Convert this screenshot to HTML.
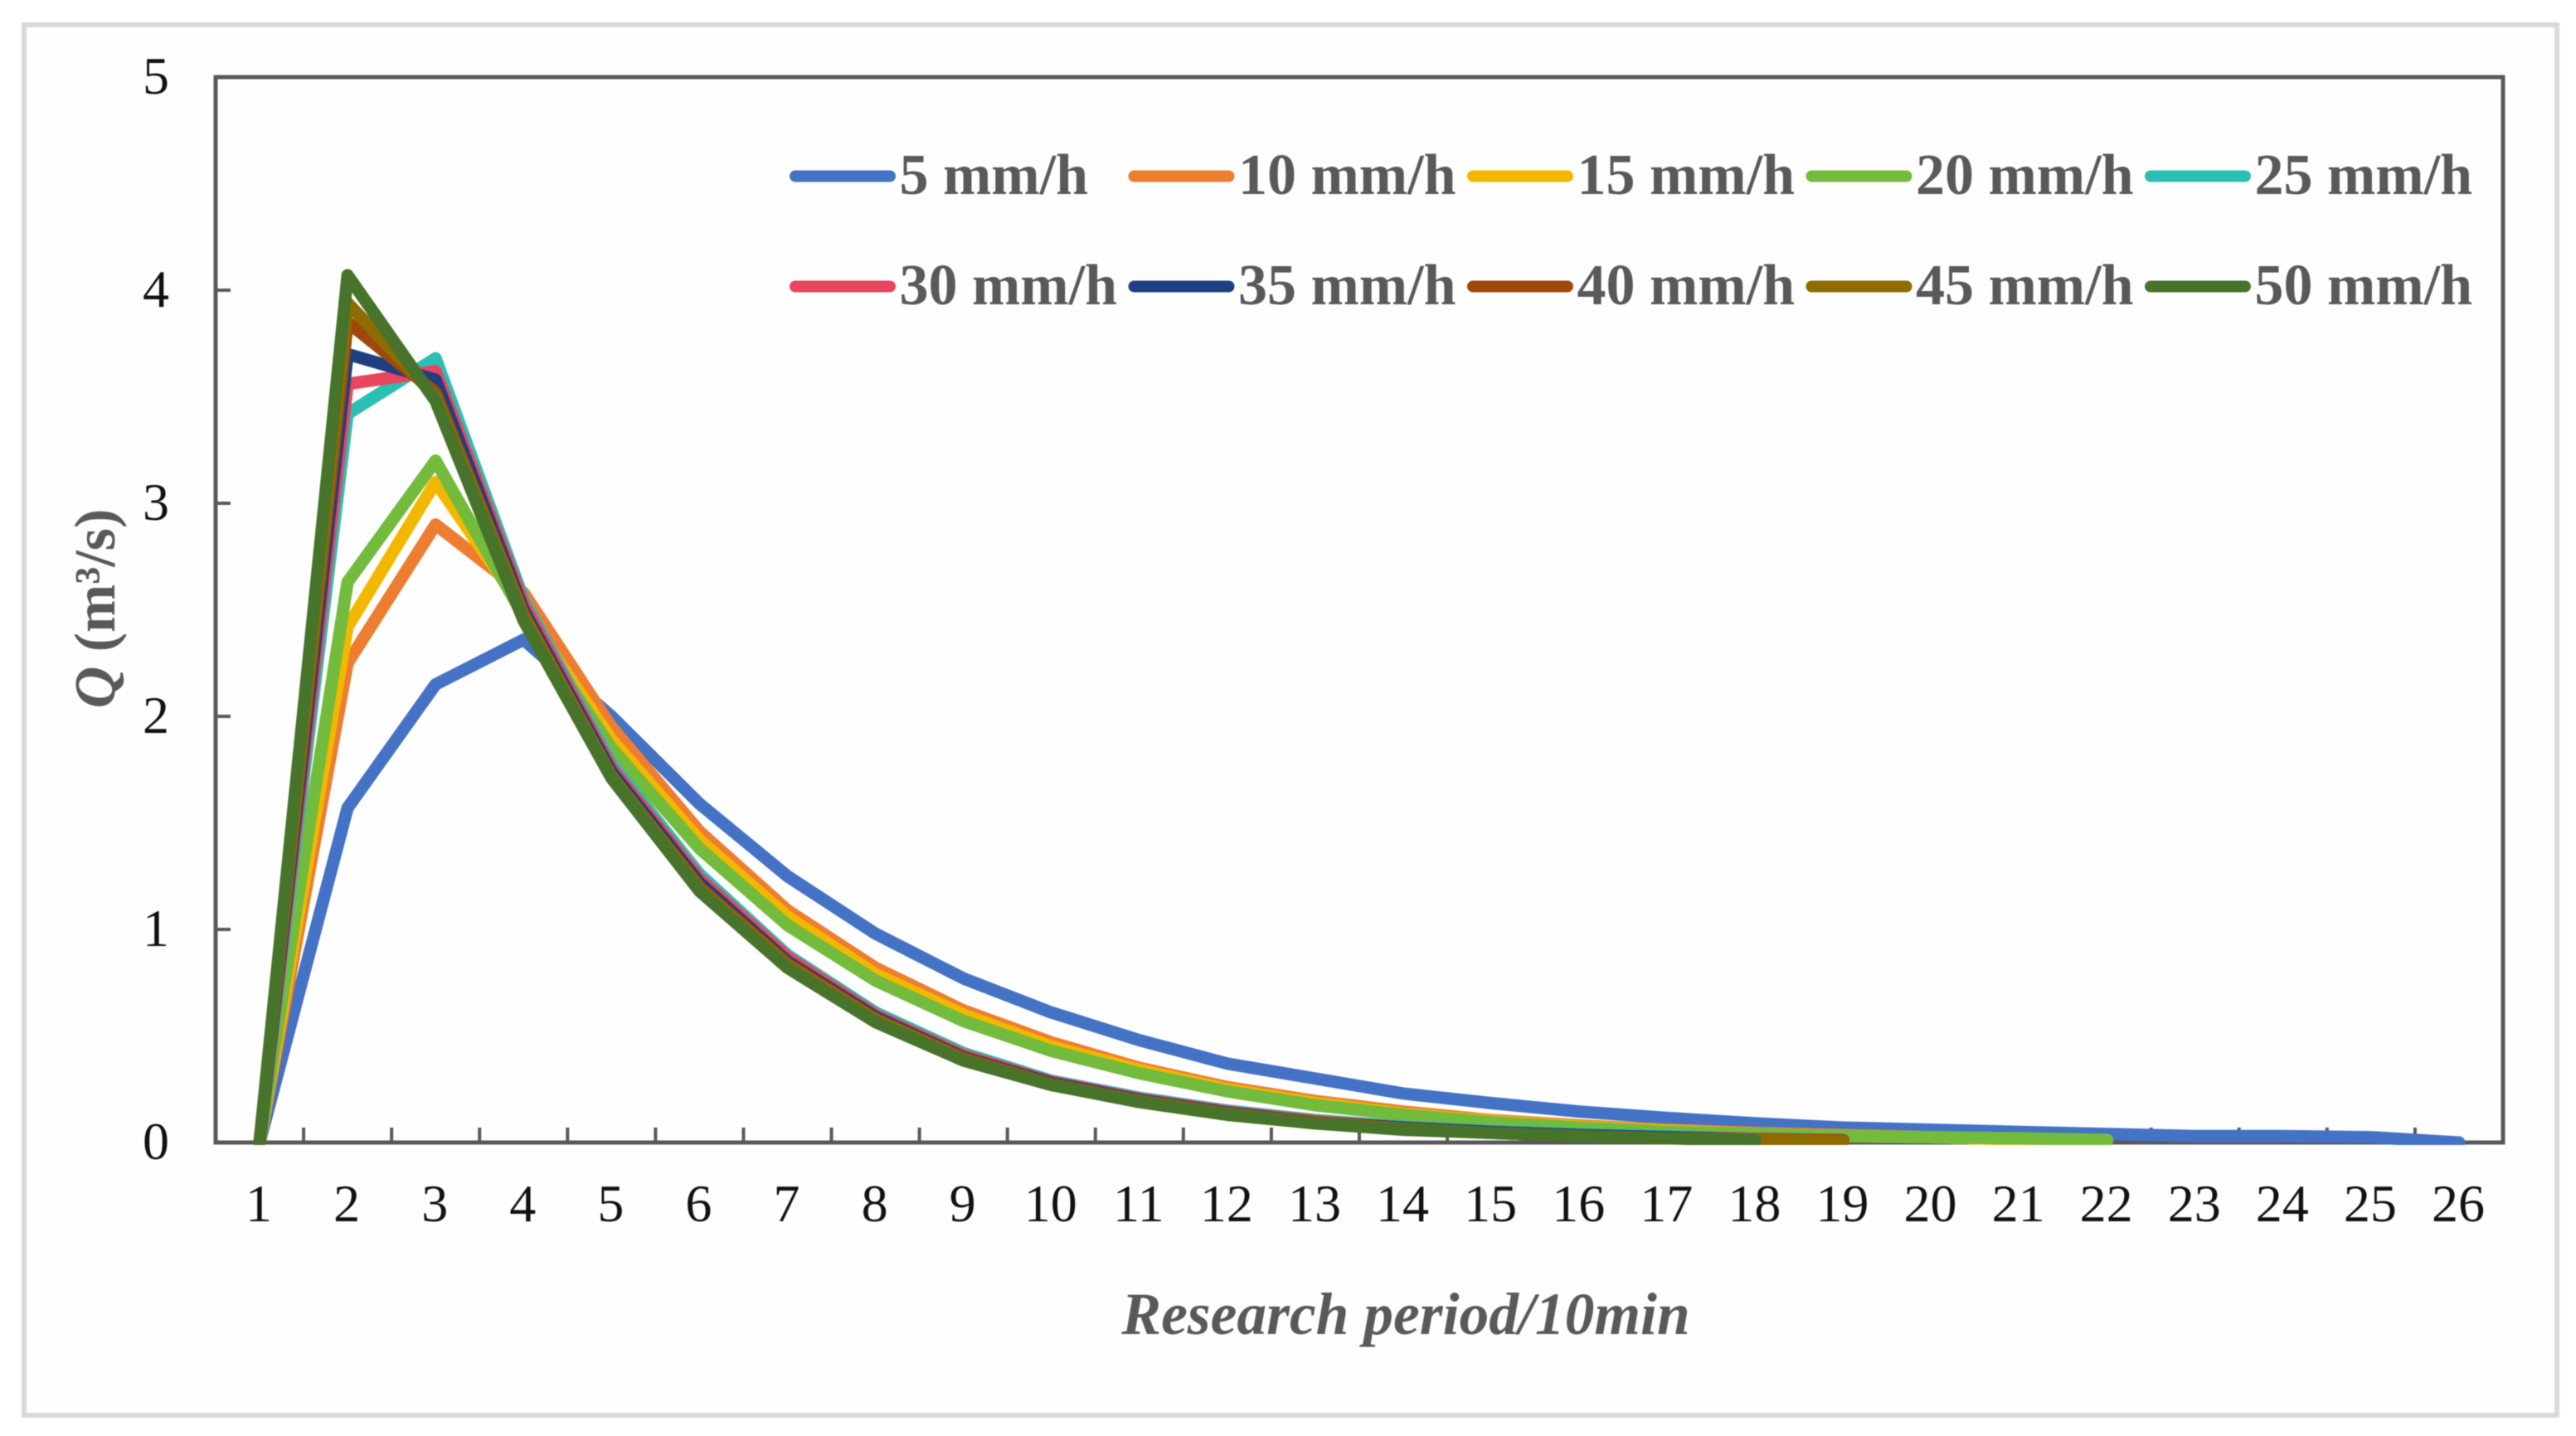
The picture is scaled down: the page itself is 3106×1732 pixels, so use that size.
<!DOCTYPE html>
<html lang="en">
<head>
<meta charset="utf-8">
<title>Discharge over research period</title>
<style>
  html, body { margin: 0; padding: 0; background: #ffffff; }
  body { width: 3106px; height: 1732px; overflow: hidden; }
  svg { display: block; filter: blur(0.6px); }
  text { font-family: "Liberation Serif", serif; }
  .tick-label { font-size: 64px; fill: #111111; }
  .legend-label { font-size: 70px; font-weight: bold; fill: #595959; }
  .axis-title { font-size: 70px; font-weight: bold; fill: #595959; }
</style>
</head>
<body>
<svg id="chart" xmlns="http://www.w3.org/2000/svg" width="3106" height="1732" viewBox="0 0 3106 1732">
  <defs>
    <clipPath id="plot-clip"><rect x="255" y="88" width="2768" height="1293"></rect></clipPath>
  </defs>
  <rect x="0" y="0" width="3106" height="1732" fill="#ffffff"></rect>
  <rect x="29" y="30" width="3054" height="1677" fill="#fefefe" stroke="#dadada" stroke-width="6"></rect>
  <g id="axes"></g>
  <g id="lines" clip-path="url(#plot-clip)"></g>
  <g id="legend"></g>
  <text class="axis-title" text-anchor="middle" transform="translate(138 734) rotate(-90)"><tspan font-style="italic">Q</tspan> (m³/s)</text>
  <text class="axis-title" x="1695" y="1609" text-anchor="middle" font-style="italic" style="font-size:71.5px">Research period/10min</text>
</svg>
<script>
const periods = ["1","2","3","4","5","6","7","8","9","10","11","12","13","14","15","16","17","18","19","20","21","22","23","24","25","26"];
const yTicks = [0, 1, 2, 3, 4, 5];
const seriesNames = ["5 mm/h","10 mm/h","15 mm/h","20 mm/h","25 mm/h","30 mm/h","35 mm/h","40 mm/h","45 mm/h","50 mm/h"];

const q5  = [0,1.57,2.15,2.36,2.0,1.59,1.25,0.98,0.77,0.61,0.48,0.37,0.30,0.23,0.185,0.145,0.115,0.09,0.07,0.06,0.05,0.04,0.03,0.03,0.025,0];
const q10 = [0,2.25,2.90,2.58,1.95,1.46,1.09,0.82,0.62,0.47,0.35,0.26,0.195,0.145,0.105,0.08,0.06,0.045,0.035,0.025,0.015];
const q15 = [0,2.42,3.10,2.50,1.89,1.42,1.06,0.79,0.60,0.45,0.34,0.25,0.185,0.135,0.10,0.075,0.055,0.04,0.03,0.025,0.015,0.01];
const q20 = [0,2.63,3.20,2.47,1.85,1.38,1.02,0.76,0.57,0.43,0.325,0.24,0.175,0.13,0.095,0.07,0.05,0.04,0.03,0.025,0.02,0.012];
const q25 = [0,3.42,3.68,2.55,1.78,1.26,0.88,0.61,0.42,0.29,0.21,0.15,0.105,0.075,0.055,0.04,0.03,0.02,0.012];
const q30 = [0,3.56,3.62,2.53,1.76,1.24,0.87,0.60,0.41,0.285,0.205,0.145,0.10,0.07,0.05,0.035,0.025,0.018,0.01];
const q35 = [0,3.70,3.58,2.50,1.74,1.22,0.85,0.59,0.40,0.28,0.20,0.14,0.095,0.07,0.05,0.035,0.025,0.015,0.01];
const q40 = [0,3.85,3.52,2.48,1.72,1.20,0.84,0.58,0.395,0.275,0.195,0.135,0.095,0.065,0.045,0.03,0.02,0.015,0.01];
const q45 = [0,3.94,3.50,2.47,1.72,1.19,0.83,0.575,0.39,0.27,0.195,0.135,0.09,0.065,0.045,0.03,0.02,0.015,0.005];
const q50 = [0,4.07,3.48,2.45,1.71,1.18,0.82,0.565,0.385,0.27,0.19,0.13,0.09,0.06,0.045,0.03,0.02,0.01];
const seriesValues = [q5, q10, q15, q20, q25, q30, q35, q40, q45, q50];

const seriesColors = ["#4472C4","#ED7D31","#F2B800","#72BB3C","#2BBFB3","#E8455F","#1F3F80","#9E480E","#8E6C00","#47732A"];

const NS = "http://www.w3.org/2000/svg";
const plotLeft = 260, plotRight = 3018, plotTop = 93, plotBottom = 1378;
const yMax = 5;
const band = (plotRight - plotLeft) / periods.length;
function xScale(i) { return plotLeft + band * (i + 0.5); }
function yScale(v) { return plotBottom - (v / yMax) * (plotBottom - plotTop); }
function make(tag, attrs) {
  const el = document.createElementNS(NS, tag);
  for (const k in attrs) el.setAttribute(k, attrs[k]);
  return el;
}

const axes = document.getElementById("axes");
const lines = document.getElementById("lines");
const legend = document.getElementById("legend");

const frame = make("rect", {x: plotLeft, y: plotTop, width: plotRight - plotLeft, height: plotBottom - plotTop, fill: "none", stroke: "#595959", "stroke-width": 5});


axes.appendChild(frame);

yTicks.forEach(function (t) {
  const y = yScale(t);
  if (t > 0 && t < yMax) {
    const tick = make("line", {x1: plotLeft, x2: plotLeft + 18, y1: y, y2: y, stroke: "#595959", "stroke-width": 4});
    
    
    axes.appendChild(tick);
  }
  const label = make("text", {x: 204, y: y + 20, "text-anchor": "end", class: "tick-label"});
  
  
  label.textContent = String(t);
  axes.appendChild(label);
});

periods.forEach(function (p, i) {
  if (i > 0) {
    const bx = plotLeft + band * i;
    const tick = make("line", {x1: bx, x2: bx, y1: plotBottom, y2: plotBottom - 18, stroke: "#595959", "stroke-width": 4});
    
    
    axes.appendChild(tick);
  }
  const label = make("text", {x: xScale(i) - 1, y: 1473, "text-anchor": "middle", class: "tick-label"});
  
  
  label.textContent = p;
  axes.appendChild(label);
});

seriesValues.forEach(function (vals, s) {
  const pts = vals.map(function (v, i) { return xScale(i).toFixed(1) + "," + yScale(v).toFixed(1); }).join(" ");
  const line = make("polyline", {points: pts, fill: "none", stroke: seriesColors[s], "stroke-width": 15, "stroke-linejoin": "round", "stroke-linecap": "round"});
  
  
  lines.appendChild(line);
});

const legendColumnStep = 408.5;
const legendStartX = 953;
const legendRowY = [212.5, 345.5];
seriesNames.forEach(function (name, s) {
  const row = Math.floor(s / 5);
  const col = s % 5;
  const kx = legendStartX + col * legendColumnStep;
  const ky = legendRowY[row];
  const key = make("line", {x1: kx + 6, x2: kx + 120, y1: ky, y2: ky, stroke: seriesColors[s], "stroke-width": 14, "stroke-linecap": "round"});
  
  
  legend.appendChild(key);
  const label = make("text", {x: kx + 131.5, y: ky + 21.5, class: "legend-label"});
  
  
  label.textContent = name;
  legend.appendChild(label);
});
</script>
</body>
</html>
